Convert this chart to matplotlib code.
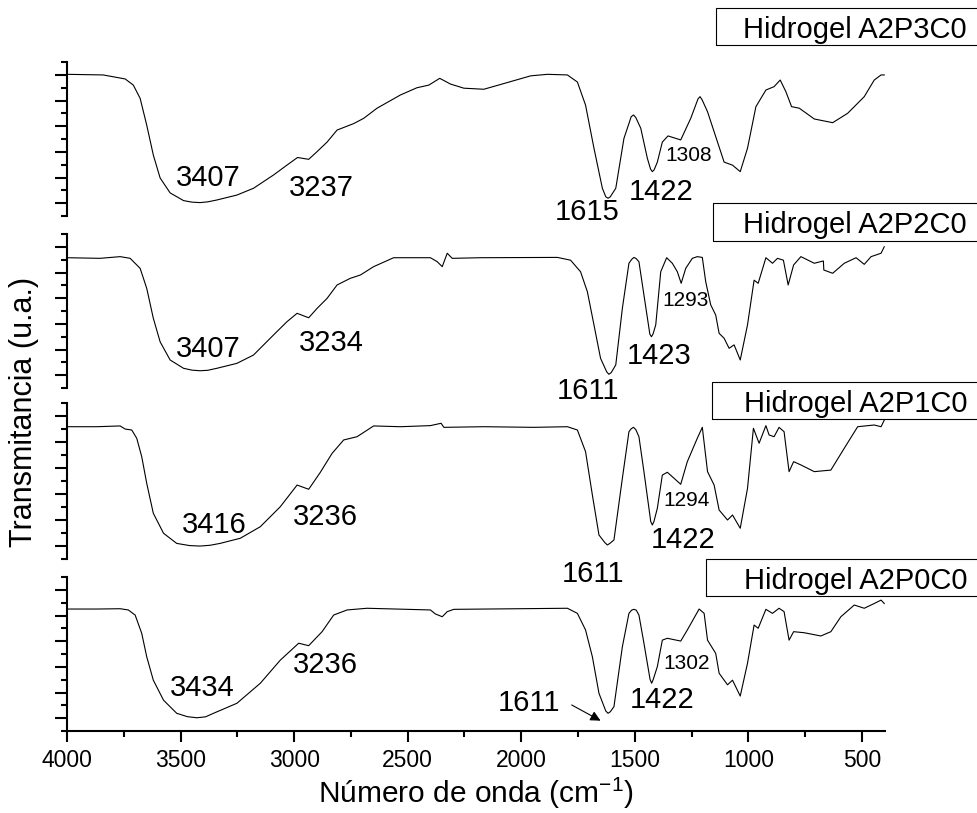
import numpy as np
import matplotlib
matplotlib.use('Agg')
import matplotlib.pyplot as plt
from matplotlib.patches import Rectangle

plt.rcParams['font.family'] = ['Liberation Sans', 'DejaVu Sans']

# FTIR spectra, transmittance in arbitrary units (0-100 per panel)
labels = ['Hidrogel A2P3C0', 'Hidrogel A2P2C0', 'Hidrogel A2P1C0', 'Hidrogel A2P0C0']

wn_p3 = [4000, 3841, 3744, 3708, 3678, 3649, 3620, 3590, 3546, 3487, 3450, 3414, 3380, 3340, 3252,
         3179, 3091, 3032, 2985, 2936, 2899, 2855, 2811, 2738, 2694, 2635, 2532, 2459, 2407, 2359,
         2312, 2253, 2165, 2077, 1959, 1885, 1797, 1753, 1717, 1680, 1643, 1628, 1618, 1608, 1584,
         1548, 1516, 1506, 1496, 1474, 1445, 1431, 1423, 1415, 1401, 1379, 1354, 1298, 1254, 1222,
         1213, 1204, 1180, 1136, 1107, 1070, 1036, 1004, 967, 923, 887, 860, 835, 810, 776,
         710, 629, 563, 490, 446, 416, 402]
t_p3 = [92, 91.6, 89, 85, 76.4, 59, 39.6, 24.7, 15, 10, 9, 8.7, 9.2, 10.4, 13.6,
        18, 26.6, 33, 38, 36.8, 41.8, 48, 55.8, 60, 63.4, 70, 78.6, 83.3, 85, 89.4,
        85.7, 83, 82.3, 86, 91, 92, 91.6, 87, 72, 44, 18, 12.5, 11.5, 12.5, 18,
        50.4, 64.5, 65.6, 64, 57, 37.5, 30.5, 28.8, 30, 35, 48, 52, 49.4, 63.4, 76,
        77.5, 75.5, 67.7, 48, 35, 33, 28.8, 44, 71, 81.8, 84, 88.3, 80.7, 71, 70,
        63, 60.6, 66.7, 77.5, 88.3, 91.6, 91.6]

wn_p2 = [4000, 3855, 3766, 3722, 3678, 3649, 3620, 3590, 3546, 3487, 3450, 3414, 3380, 3340, 3252,
         3179, 3091, 3032, 2987, 2936, 2899, 2855, 2811, 2753, 2708, 2650, 2562, 2400, 2370, 2348,
         2326, 2304, 2180, 1841, 1783, 1739, 1709, 1680, 1651, 1624, 1614, 1604, 1584, 1555, 1526,
         1514, 1504, 1494, 1482, 1460, 1434, 1427, 1420, 1408, 1386, 1360, 1335, 1313, 1296, 1276,
         1247, 1225, 1203, 1188, 1166, 1144, 1129, 1107, 1085, 1063, 1036, 1004, 975, 957, 923,
         894, 872, 846, 825, 801, 769, 710, 670, 668, 629, 578, 526, 490, 460, 438,
         416, 402]
t_p2 = [84.6, 84.2, 85.3, 84.2, 77.7, 64.7, 45.3, 30, 18.2, 12.8, 11.6, 11.2, 11.5, 12.8, 16,
        21.4, 34.4, 43, 48.5, 45.6, 51.7, 58.2, 66.9, 71.2, 73.4, 78.8, 84.6, 84.6, 82, 78.8,
        87.5, 84.2, 84.6, 84.8, 83, 75.5, 62.5, 41, 19.3, 10.5, 8.9, 10, 15, 51.7, 81,
        83.5, 84.8, 84, 82, 60.4, 35, 33.3, 35, 41, 75.5, 84.6, 81, 75.5, 68, 77.7,
        84.2, 85.3, 84.8, 69, 54, 47.4, 35.5, 32.3, 25.8, 28, 18.2, 41, 70, 68, 84.6,
        81, 84.2, 83, 66.9, 79.9, 85.3, 81, 82.5, 76.6, 74.5, 81, 84.6, 80.3, 85.3, 86.4,
        87.5, 91.7]

wn_p1 = [4000, 3869, 3766, 3744, 3715, 3693, 3671, 3649, 3620, 3575, 3517, 3460, 3414, 3370, 3326,
         3237, 3149, 3061, 2987, 2936, 2885, 2833, 2782, 2723, 2650, 2532, 2400, 2353, 2341, 2165,
         1945, 1797, 1753, 1717, 1687, 1658, 1632, 1621, 1610, 1592, 1555, 1526, 1516, 1506, 1496,
         1482, 1460, 1430, 1423, 1416, 1401, 1379, 1357, 1327, 1298, 1269, 1225, 1203, 1180, 1151,
         1129, 1092, 1070, 1036, 1004, 978, 953, 923, 909, 887, 865, 843, 821, 801, 769,
         710, 637, 578, 519, 446, 416, 402]
t_p1 = [84.8, 84.8, 85.3, 83.3, 82.7, 77.4, 65.6, 48.5, 29.3, 16.5, 10, 8.6, 8.3, 8.8, 10,
        13.3, 20.7, 33.5, 47.4, 44.7, 55.5, 67.7, 76.3, 78.4, 85.3, 84.8, 85.5, 87, 84.4, 84.8,
        84.4, 84.8, 82.7, 68.8, 41, 15.4, 10.5, 9, 10, 12.2, 51.7, 81.6, 83.5, 84.4, 83,
        78.4, 56, 24, 21.8, 24, 32.5, 53.8, 55.6, 51.7, 47.9, 62.4, 77.4, 84.4, 56, 47.4,
        31.4, 25, 28.2, 19.7, 45.3, 83.8, 74.2, 85.5, 79.5, 78.4, 84.4, 81.6, 56, 62.4, 60.3,
        56, 57, 71, 84.8, 85.9, 84.8, 89]

wn_p0 = [4000, 3869, 3766, 3730, 3700, 3671, 3649, 3620, 3575, 3517, 3470, 3428, 3390, 3355, 3252,
         3149, 3061, 2980, 2936, 2877, 2826, 2767, 2679, 2400, 2378, 2348, 2326, 2297, 1797, 1753,
         1717, 1687, 1658, 1628, 1618, 1608, 1592, 1555, 1526, 1514, 1504, 1494, 1482, 1460, 1433,
         1426, 1419, 1401, 1379, 1357, 1298, 1269, 1217, 1195, 1180, 1144, 1129, 1092, 1070, 1036,
         1004, 975, 957, 923, 894, 865, 843, 821, 801, 754, 681, 637, 593, 534, 490,
         446, 416, 402]
t_p0 = [79.2, 79.2, 79.4, 78.6, 75.3, 63.4, 48.2, 33, 20, 11.5, 9.3, 8.6, 9.2, 11.5, 18,
        31, 46, 57, 55.4, 64.5, 75.3, 78.6, 79.7, 78.6, 76, 74.2, 77.5, 79, 79.7, 76.4,
        65.6, 48.2, 24.5, 13, 11.5, 12.5, 15.8, 54.7, 76.4, 78.5, 79, 78.5, 75.3, 57, 33.5,
        31, 33.5, 41.8, 59, 60.2, 58.4, 65.6, 79.2, 76.4, 59, 50.4, 37.5, 30, 33, 22.7,
        44, 68.8, 66.7, 79, 76.4, 79.7, 77.5, 59, 64.5, 63.8, 61.7, 64.5, 74.2, 81.8, 79.7,
        82.8, 85, 82.8]

# peak annotations: (text, wavenumber, y, small?)
peaks_p3 = [('3407', 3380, 25, False), ('3237', 2878, 18.5, False), ('1615', 1708, 2.6, False),
            ('1422', 1384, 15.3, False), ('1308', 1263, 39, True)]
peaks_p2 = [('3407', 3380, 25.3, False), ('3234', 2838, 29.5, False), ('1611', 1706, -1.9, False),
            ('1423', 1393, 20.8, False), ('1293', 1276, 57, True)]
peaks_p1 = [('3416', 3351, 21.8, False), ('3236', 2862, 27.2, False), ('1611', 1684, -9.6, False),
            ('1422', 1287, 12.2, False), ('1294', 1272, 37.2, True)]
peaks_p0 = [('3434', 3406, 27.6, False), ('3236', 2862, 42.9, False), ('1611', 1966, 17.9, False),
            ('1422', 1382, 20.1, False), ('1302', 1270, 43.8, True)]

spectra = [(wn_p3, t_p3, peaks_p3), (wn_p2, t_p2, peaks_p2),
           (wn_p1, t_p1, peaks_p1), (wn_p0, t_p0, peaks_p0)]

W, H = 977, 813
fig = plt.figure(figsize=(W / 100, H / 100), dpi=100)

left_px, right_px = 67, 884.7
panel_px = [(62, 216), (234, 388), (403, 559), (577, 731)]
box_px = [(716, 8, 45, 38), (713, 203, 241, 233), (712, 382, 419, 412), (706, 559, 596, 589)]

axes = []
for i, (wn, t, peaks) in enumerate(spectra):
    top, bot = panel_px[i]
    ax = fig.add_axes([left_px / W, 1 - bot / H, (right_px - left_px) / W, (bot - top) / H])
    ax.plot(wn, t, color='black', lw=0.8)
    ax.set_xlim(4000, 400)
    ax.set_ylim(0, 100)
    for s in ['top', 'right']:
        ax.spines[s].set_visible(False)
    ax.spines['left'].set_linewidth(1.5)
    ax.set_yticks(np.arange(8.333, 100, 16.667))
    ax.set_yticks(np.arange(0, 100.1, 16.667), minor=True)
    ax.tick_params(axis='y', which='major', direction='out', length=8.5, width=1.5, labelleft=False)
    ax.tick_params(axis='y', which='minor', direction='out', length=4.3, width=1.5)
    ax.patch.set_visible(False)
    if i < 3:
        ax.spines['bottom'].set_visible(False)
        ax.tick_params(axis='x', which='both', bottom=False, labelbottom=False)
    else:
        ax.spines['bottom'].set_linewidth(1.5)
        ax.set_xticks([4000, 3500, 3000, 2500, 2000, 1500, 1000, 500])
        ax.set_xticks([3750, 3250, 2750, 2250, 1750, 1250, 750], minor=True)
        ax.tick_params(axis='x', which='major', direction='out', length=7.7, width=1.5,
                       labelsize=16.5, pad=5)
        ax.tick_params(axis='x', which='minor', direction='out', length=4.2, width=1.5)
    for txt, x, y, small in peaks:
        ax.text(x, y, txt, fontsize=15 if small else 21, ha='center', va='center', clip_on=False)

    bl, bt, bb, base = box_px[i]
    fig.patches.append(Rectangle((bl / W, 1 - bb / H), (W + 10 - bl) / W, (bb - bt) / H,
                                 transform=fig.transFigure, fill=False, edgecolor='black',
                                 lw=0.8, clip_on=False))
    fig.text(967 / W, 1 - base / H, labels[i], fontsize=21, ha='right', va='baseline')
    axes.append(ax)

# arrow for 1611 in the bottom panel
axes[3].annotate('', xy=(1651, 6.7), xytext=(1778, 16.9),
                 arrowprops=dict(arrowstyle='-|>', color='black', lw=0.8,
                                 mutation_scale=15, shrinkA=0, shrinkB=0))

fig.text(475.5 / W, 1 - 793 / H, r'Número de onda (cm$^{\mathregular{-1}}$)', fontsize=21.5,
         ha='center', va='center')
fig.text(24 / W, 1 - 412 / H, 'Transmitancia (u.a.)', fontsize=22, rotation=90,
         ha='center', va='center')

fig.savefig('out.png', dpi=100)
